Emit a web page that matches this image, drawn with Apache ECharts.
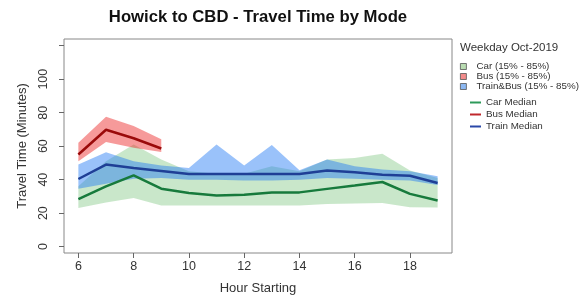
<!DOCTYPE html>
<html>
<head>
<meta charset="utf-8">
<script src="https://cdn.jsdelivr.net/npm/echarts@6/dist/echarts.min.js"></script>
<style>
html,body{margin:0;padding:0;background:#fff;}
#chart{width:579px;height:307px;}
</style>
</head>
<body>
<div id="chart"></div>
<script>
var hours = [6, 7, 8, 9, 10, 11, 12, 13, 14, 15, 16, 17, 18, 19];
var xTicks = [6, 8, 10, 12, 14, 16, 18];
var yTicks = [0, 20, 40, 60, 80, 100, 120];
var yLabels = [0, 20, 40, 60, 80, 100];

var carMedian = [28.4, 36, 42.6, 34.6, 32, 30.6, 31, 32.4, 32.4, 34.5, 36.5, 38.6, 31.5, 27.6];
var carLow    = [23, 26.4, 29, 24.5, 24.6, 24.6, 24.6, 24.6, 24.6, 25.4, 25.8, 26, 23.5, 23.4];
var carHigh   = [36, 51, 61, 52, 45, 43.5, 43.5, 48, 45, 52, 53, 55.4, 45.5, 41];

var busHours  = [6, 7, 8, 9];
var busMedian = [55, 69.8, 64.7, 58.6];
var busLow    = [51, 62.5, 59, 56.5];
var busHigh   = [62, 77.5, 72, 64.2];

var trainMedian = [40.4, 49, 47, 45.2, 43.4, 43.4, 43.4, 43.4, 43.4, 45.5, 44.4, 43, 42.3, 38];
var trainLow    = [34.5, 37.5, 40.5, 41, 40, 40, 39.5, 39.5, 40, 41, 40.5, 40, 39.5, 36.8];
var trainHigh   = [49, 56.4, 51, 48.5, 47, 61, 48.4, 60.7, 45.6, 52, 48, 46, 45, 42];

var FONT = "'Liberation Sans', Arial, sans-serif";

function band(name, xs, lo, hi, color) {
  return {
    type: 'custom',
    name: name,
    data: xs.map(function (h, i) { return [h, lo[i], hi[i]]; }),
    encode: { x: 0, y: [1, 2] },
    silent: true,
    renderItem: function (params, api) {
      if (params.dataIndex !== 0) return null;
      var n = xs.length, top = [], bot = [];
      for (var i = 0; i < n; i++) {
        top.push(api.coord([api.value(0, i), api.value(2, i)]));
        bot.unshift(api.coord([api.value(0, i), api.value(1, i)]));
      }
      return { type: 'polygon', shape: { points: top.concat(bot) }, style: { fill: color } };
    }
  };
}

function median(name, xs, vals, color) {
  return {
    type: 'line', name: name, symbol: 'none', showSymbol: false, silent: true,
    data: xs.map(function (h, i) { return [h, vals[i]]; }),
    lineStyle: { color: color, width: 2.5 },
    itemStyle: { color: color },
    z: 5
  };
}

var chart = echarts.init(document.getElementById('chart'), null, { renderer: 'canvas' });
chart.setOption({
  animation: false,
  backgroundColor: '#fff',
  textStyle: { fontFamily: FONT },
  title: [
    { text: 'Howick to CBD - Travel Time by Mode', left: 258, top: 9, padding: 0, textAlign: 'center',
      textStyle: { fontFamily: FONT, fontSize: 16.7, fontWeight: 'bold', color: '#111' } },
    { text: 'Weekday Oct-2019', left: 460, top: 41.5, padding: 0,
      textStyle: { fontFamily: FONT, fontSize: 11.5, fontWeight: 'normal', color: '#333' } }
  ],
  legend: [
    { orient: 'vertical', left: 460, top: 61.5, padding: 0, itemWidth: 6, itemHeight: 6, itemGap: 0,
      selectedMode: false, icon: 'rect',
      textStyle: { fontFamily: FONT, fontSize: 9.8, color: '#333', lineHeight: 7.6, padding: [0, 0, 0, 5] },
      data: [
        { name: 'Car (15% - 85%)', itemStyle: { color: '#b9dcb2', borderColor: '#555', borderWidth: 0.8 } },
        { name: 'Bus (15% - 85%)', itemStyle: { color: '#f28b8b', borderColor: '#555', borderWidth: 0.8 } },
        { name: 'Train&Bus (15% - 85%)', itemStyle: { color: '#8cb8f2', borderColor: '#555', borderWidth: 0.8 } }
      ] },
    { orient: 'vertical', left: 470, top: 96.5, padding: 0, itemWidth: 11, itemHeight: 2, itemGap: 0,
      selectedMode: false, icon: 'rect',
      textStyle: { fontFamily: FONT, fontSize: 9.8, color: '#333', lineHeight: 12 },
      data: [
        { name: 'Car Median', itemStyle: { color: '#2e9a5a' } },
        { name: 'Bus Median', itemStyle: { color: '#c0282c' } },
        { name: 'Train Median', itemStyle: { color: '#2a48a8' } }
      ] }
  ],
  grid: { left: 64, top: 39, width: 388, height: 214, show: true, borderColor: '#888', borderWidth: 1, containLabel: false },
  xAxis: {
    type: 'value', min: 5.48, max: 19.52,
    name: 'Hour Starting', nameLocation: 'middle', nameGap: 29,
    nameTextStyle: { fontFamily: FONT, fontSize: 13, color: '#333' },
    axisLine: { show: false, onZero: false },
    axisTick: { show: true, length: 5, customValues: xTicks, lineStyle: { color: '#666' } },
    axisLabel: { customValues: xTicks, margin: 7, fontFamily: FONT, fontSize: 12.5, color: '#333' },
    splitLine: { show: false }
  },
  yAxis: {
    type: 'value', min: -3.8, max: 124,
    name: 'Travel Time (Minutes)', nameLocation: 'middle', nameGap: 35,
    nameTextStyle: { fontFamily: FONT, fontSize: 13, color: '#333' },
    axisLine: { show: false, onZero: false },
    axisTick: { show: true, length: 5, customValues: yTicks, lineStyle: { color: '#666' } },
    axisLabel: { customValues: yLabels, rotate: 90, margin: 14, fontFamily: FONT, fontSize: 12.5, color: '#333' },
    splitLine: { show: false }
  },
  series: [
    band('Car (15% - 85%)', hours, carLow, carHigh, 'rgba(76,175,80,0.3)'),
    band('Bus (15% - 85%)', busHours, busLow, busHigh, 'rgba(235,30,30,0.45)'),
    band('Train&Bus (15% - 85%)', hours, trainLow, trainHigh, 'rgba(30,120,245,0.45)'),
    median('Car Median', hours, carMedian, '#177a3c'),
    median('Bus Median', busHours, busMedian, '#9a0a0a'),
    median('Train Median', hours, trainMedian, '#1f3f96')
  ]
});
</script>
</body>
</html>
